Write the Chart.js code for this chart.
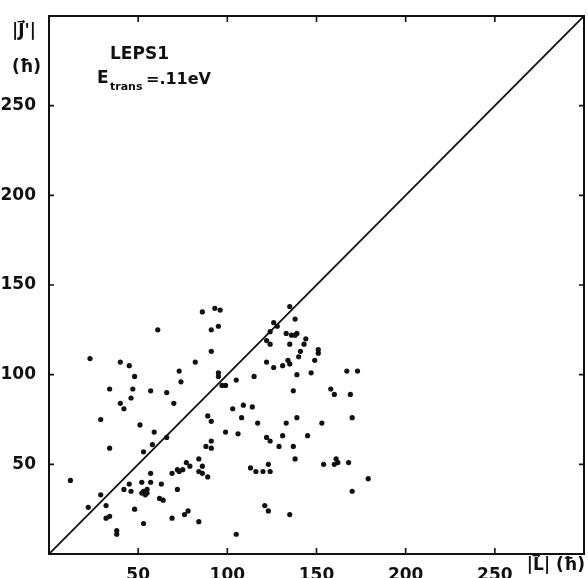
<!DOCTYPE html>
<html lang="en">
<head>
<meta charset="UTF-8">
<title>|J'| vs |L| scatter</title>
<script src="https://cdn.jsdelivr.net/npm/chart.js"></script>
<style>
  html, body { margin: 0; padding: 0; background: #fff; }
  #wrap { width: 588px; height: 578px; }
</style>
</head>
<body>
<div id="wrap"><canvas id="chart" width="588" height="578"></canvas></div>
<script>
// |L| (hbar) of each trajectory
const lValues = [
  23, 40, 45, 48, 34, 47, 46, 57, 66, 70, 40, 42, 61, 86, 93, 96, 91, 95, 91, 82,
  73, 74, 95, 95, 29, 89, 135, 138, 126, 128, 124, 122, 124, 133, 136, 139, 138, 144, 135, 143,
  141, 140, 151, 151, 149, 122, 126, 134, 131, 135, 147, 139, 97, 99, 105, 115, 137, 167, 173, 158,
  160, 169, 103, 109, 114, 108, 139, 170, 51, 59, 34, 58, 53, 66, 91, 88, 91, 91, 84, 86,
  84, 86, 89, 77, 79, 75, 72, 73, 69, 12, 57, 45, 42, 52, 57, 63, 46, 53, 55, 54,
  52, 55, 72, 62, 64, 29, 32, 22, 48, 34, 32, 69, 76, 78, 84, 53, 38, 38, 117, 133,
  153, 99, 106, 122, 124, 131, 145, 129, 137, 138, 113, 123, 116, 120, 124, 154, 161, 162, 160, 168,
  179, 170, 121, 123, 135, 105
];
// |J'| (hbar) of each trajectory
const jValues = [
  109, 107, 105, 99, 92, 92, 87, 91, 90, 84, 84, 81, 125, 135, 137, 136, 125, 127, 113, 107,
  102, 96, 101, 99, 75, 77, 138, 131, 129, 127, 124, 119, 117, 123, 122, 123, 122, 120, 117, 117,
  113, 110, 114, 112, 108, 107, 104, 108, 105, 106, 101, 100, 94, 94, 97, 99, 91, 102, 102, 92,
  89, 89, 81, 83, 82, 76, 76, 76, 72, 68, 59, 61, 57, 65, 74, 60, 63, 59, 53, 49,
  46, 45, 43, 51, 49, 47, 47, 46, 45, 41, 45, 39, 36, 40, 40, 39, 35, 35, 36, 33,
  34, 34, 36, 31, 30, 33, 27, 26, 25, 21, 20, 20, 22, 24, 18, 17, 13, 11, 73, 73,
  73, 68, 67, 65, 63, 66, 66, 60, 60, 53, 48, 50, 46, 46, 46, 50, 53, 51, 50, 51,
  42, 35, 27, 24, 22, 11
];
const tickValues = [50, 100, 150, 200, 250];
const axisMin = 0;
const axisMax = 300;

const ink = '#111';
const points = lValues.map((l, i) => ({ x: l, y: jValues[i] }));

// frame, inward ticks and the hand-lettered labels
const decorations = {
  id: 'decorations',
  afterDraw(chart) {
    const ctx = chart.ctx;
    const area = chart.chartArea;
    const xs = chart.scales.x;
    const ys = chart.scales.y;
    ctx.save();
    ctx.strokeStyle = ink;
    ctx.lineWidth = 2;
    ctx.strokeRect(area.left, area.top, area.right - area.left, area.bottom - area.top);

    ctx.lineWidth = 1.6;
    ctx.beginPath();
    tickValues.forEach(v => {
      const px = xs.getPixelForValue(v);
      ctx.moveTo(px, area.bottom); ctx.lineTo(px, area.bottom - 6);
      ctx.moveTo(px, area.top); ctx.lineTo(px, area.top + 6);
      const py = ys.getPixelForValue(v);
      ctx.moveTo(area.left, py); ctx.lineTo(area.left + 5, py);
      ctx.moveTo(area.right, py); ctx.lineTo(area.right - 5, py);
    });
    ctx.stroke();

    ctx.fillStyle = ink;
    ctx.textBaseline = 'middle';
    ctx.font = 'bold 17px "DejaVu Sans"';
    ctx.textAlign = 'left';
    ctx.fillText('|J\u20D7\'|', 12, 32);
    ctx.fillText('(\u0127)', 12, 68);
    ctx.textAlign = 'right';
    ctx.fillText('|L\u20D7| (\u0127)', area.right + 1, 566);

    ctx.textAlign = 'left';
    ctx.fillText('LEPS1', 110, 55);
    ctx.fillText('E', 97, 79);
    ctx.font = 'bold 11px "DejaVu Sans"';
    ctx.fillText('trans', 110, 87);
    ctx.font = 'bold 16px "DejaVu Sans"';
    ctx.fillText('=.11eV', 146, 80);
    ctx.restore();
  }
};

const tickFont = { family: 'DejaVu Sans', size: 17, weight: 'bold' };
const showTick = value => tickValues.includes(value) ? String(value) : '';

new Chart(document.getElementById('chart').getContext('2d'), {
  type: 'scatter',
  data: {
    datasets: [
      {
        label: 'trajectories',
        data: points,
        pointRadius: 2.6,
        pointBackgroundColor: ink,
        pointBorderWidth: 0
      },
      {
        type: 'line',
        label: '|J\'| = |L|',
        data: [{ x: axisMin, y: axisMin }, { x: axisMax, y: axisMax }],
        borderColor: ink,
        borderWidth: 1.8,
        pointRadius: 0,
        fill: false
      }
    ]
  },
  options: {
    responsive: false,
    animation: false,
    layout: { padding: { top: 16, right: 2, left: 0, bottom: 0 } },
    plugins: {
      legend: { display: false },
      tooltip: { enabled: false }
    },
    scales: {
      x: {
        type: 'linear',
        position: 'bottom',
        min: axisMin,
        max: axisMax,
        grid: { display: false },
        border: { display: false },
        ticks: {
          stepSize: 50,
          autoSkip: false,
          maxRotation: 0,
          padding: 3,
          color: ink,
          font: tickFont,
          callback: showTick
        },
        afterFit(scale) { scale.height = 24; }
      },
      y: {
        type: 'linear',
        position: 'left',
        min: axisMin,
        max: axisMax,
        grid: { display: false },
        border: { display: false },
        ticks: {
          stepSize: 50,
          autoSkip: false,
          padding: 5,
          color: ink,
          font: tickFont,
          callback: showTick
        },
        afterFit(scale) { scale.width = 49; }
      }
    }
  },
  plugins: [decorations]
});
</script>
</body>
</html>
